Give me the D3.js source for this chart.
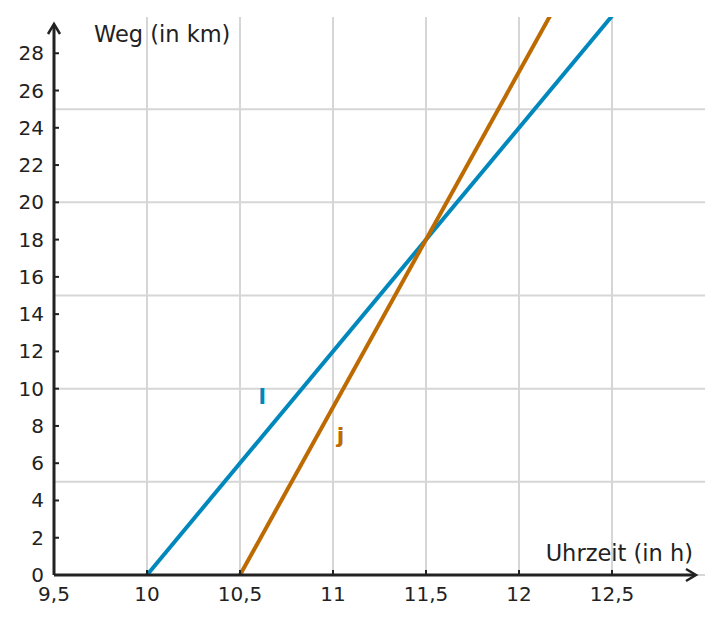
<!DOCTYPE html>
<html>
<head>
<meta charset="utf-8">
<script src="https://cdn.jsdelivr.net/npm/d3@7"></script>
<style>
  body { margin: 0; background: #fff; }
  text { font-family: "DejaVu Sans", sans-serif; fill: #222; }
</style>
</head>
<body>
<div id="chart"></div>
<script>
// data
const xTicks = [9.5, 10, 10.5, 11, 11.5, 12, 12.5];
const yTicks = [0, 2, 4, 6, 8, 10, 12, 14, 16, 18, 20, 22, 24, 26, 28];
const xGrid = [10, 10.5, 11, 11.5, 12, 12.5];
const yGrid = [0, 5, 10, 15, 20, 25];
const seriesNames = ['l', 'j'];
const seriesColors = ['#0088bd', '#bd6a00'];
// [Uhrzeit, Weg]
const lineL = [[10, 0], [12.5, 30]];
const lineJ = [[10.5, 0], [12.1667, 30]];
const labelPos = [[10.62, 9.2], [11.04, 7.1]];

const W = 722, H = 623;
const svg = d3.select('#chart').append('svg')
  .attr('width', W).attr('height', H);

const x = d3.scaleLinear().domain([9.5, 13]).range([54, 705]);
const y = d3.scaleLinear().domain([0, 30]).range([575, 16]);
const fmt = d => String(d).replace('.', ',');

// grid
svg.append('g').selectAll('line').data(xGrid).join('line')
  .attr('x1', d => x(d)).attr('x2', d => x(d))
  .attr('y1', 17).attr('y2', y(0))
  .attr('stroke', '#d6d6d6').attr('stroke-width', 2);
svg.append('g').selectAll('line').data(yGrid).join('line')
  .attr('x1', x(9.5)).attr('x2', 705)
  .attr('y1', d => y(d)).attr('y2', d => y(d))
  .attr('stroke', '#d6d6d6').attr('stroke-width', 2);

// lines
const line = d3.line().x(d => x(d[0])).y(d => y(d[1]));
svg.append('defs').append('clipPath').attr('id', 'clip')
  .append('rect').attr('x', 40).attr('y', 17).attr('width', 680).attr('height', 570);
const lines = [lineL, lineJ];
svg.append('g').attr('clip-path', 'url(#clip)')
  .selectAll('path').data(lines).join('path')
  .attr('d', line)
  .attr('fill', 'none')
  .attr('stroke', (d, i) => seriesColors[i])
  .attr('stroke-width', 4);

// series labels
svg.append('g').selectAll('text').data(seriesNames).join('text')
  .attr('x', (d, i) => x(labelPos[i][0]))
  .attr('y', (d, i) => y(labelPos[i][1]))
  .attr('text-anchor', 'middle')
  .attr('font-size', 22).attr('font-weight', 'bold')
  .style('fill', (d, i) => seriesColors[i])
  .text(d => d);

// axes
const axisColor = '#222';
svg.append('line')
  .attr('x1', x(9.5)).attr('x2', 695)
  .attr('y1', y(0)).attr('y2', y(0))
  .attr('stroke', axisColor).attr('stroke-width', 3);
svg.append('path')
  .attr('d', `M686,${y(0) - 6}L696,${y(0)}L686,${y(0) + 6}`)
  .attr('fill', 'none').attr('stroke', axisColor).attr('stroke-width', 2.5);
svg.append('line')
  .attr('x1', x(9.5)).attr('x2', x(9.5))
  .attr('y1', y(0)).attr('y2', 25)
  .attr('stroke', axisColor).attr('stroke-width', 3);
svg.append('path')
  .attr('d', `M${x(9.5) - 6},34L${x(9.5)},24L${x(9.5) + 6},34`)
  .attr('fill', 'none').attr('stroke', axisColor).attr('stroke-width', 2.5);

// ticks
svg.append('g').selectAll('line').data(yTicks.filter(d => d > 0)).join('line')
  .attr('x1', x(9.5)).attr('x2', x(9.5) + 5)
  .attr('y1', d => y(d)).attr('y2', d => y(d))
  .attr('stroke', axisColor).attr('stroke-width', 2);
svg.append('g').selectAll('line').data(xTicks.filter(d => d > 9.5)).join('line')
  .attr('x1', d => x(d)).attr('x2', d => x(d))
  .attr('y1', y(0)).attr('y2', y(0) - 5)
  .attr('stroke', axisColor).attr('stroke-width', 2);

svg.append('g').selectAll('text').data(yTicks).join('text')
  .attr('x', 44).attr('y', d => y(d) + 7)
  .attr('text-anchor', 'end').attr('font-size', 20)
  .text(d => fmt(d));
svg.append('g').selectAll('text').data(xTicks).join('text')
  .attr('x', d => x(d)).attr('y', 601)
  .attr('text-anchor', 'middle').attr('font-size', 20)
  .text(d => fmt(d));

// axis titles
svg.append('text').attr('x', 94).attr('y', 42)
  .attr('font-size', 22.5).text('Weg (in km)');
svg.append('text').attr('x', 693).attr('y', 561)
  .attr('text-anchor', 'end').attr('font-size', 22.5).text('Uhrzeit (in h)');
</script>
</body>
</html>
